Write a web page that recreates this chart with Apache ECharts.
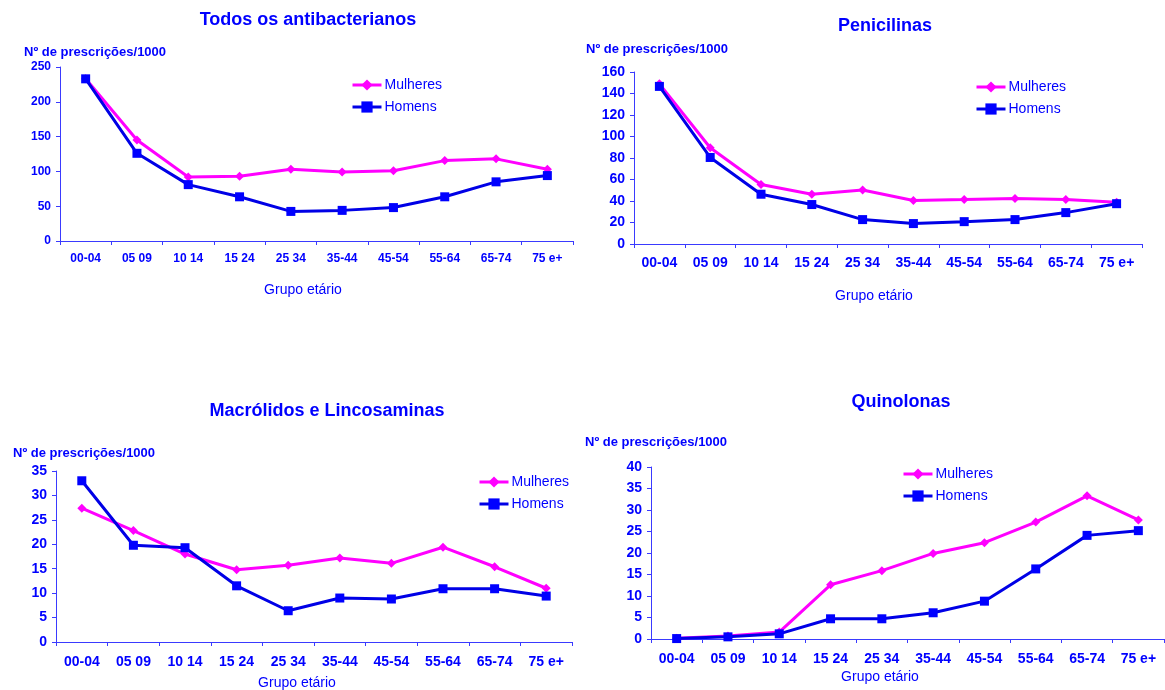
<!DOCTYPE html>
<html>
<head>
<meta charset="utf-8">
<title>Prescrições de antibacterianos por grupo etário</title>
<script src="https://cdn.jsdelivr.net/npm/echarts@6/dist/echarts.min.js"></script>
<style>
  html, body { margin: 0; padding: 0; background: #ffffff; }
  #chart { width: 1165px; height: 690px; }
</style>
</head>
<body>
<div id="chart"></div>
<script>
// Age groups shared by all four panels
const categories = ['00-04', '05 09', '10 14', '15 24', '25 34', '35-44', '45-54', '55-64', '65-74', '75 e+'];

// Prescriptions per 1000 inhabitants
const todosMulheres = [233, 145, 92, 93, 103, 99, 101, 115.5, 118, 103];
const todosHomens   = [233, 126, 81, 63.5, 42.5, 44, 48, 63.5, 85, 94];

const penMulheres = [149, 89.5, 55.3, 46.3, 50.3, 40.4, 41.3, 42.4, 41.3, 38.8];
const penHomens   = [146.6, 80.5, 46.3, 36.7, 22.7, 19, 20.8, 22.7, 29.2, 37.5];

const macMulheres = [27.4, 22.8, 18.0, 14.8, 15.7, 17.2, 16.1, 19.4, 15.4, 11.0];
const macHomens   = [33.0, 19.8, 19.3, 11.5, 6.4, 9.0, 8.8, 10.9, 10.9, 9.4];

const quiMulheres = [0.15, 0.7, 1.6, 12.6, 15.9, 19.9, 22.4, 27.2, 33.3, 27.7];
const quiHomens   = [0.1, 0.5, 1.2, 4.7, 4.7, 6.1, 8.8, 16.3, 24.1, 25.2];

// Panel titles and y-axis scales
const panelTitles = ['Todos os antibacterianos', 'Penicilinas', 'Macrólidos e Lincosaminas', 'Quinolonas'];
const yMax = [250, 160, 35, 40];
const yStep = [50, 20, 5, 5];

const seriesNames = ['Mulheres', 'Homens'];
const yName = 'Nº de prescrições/1000';
const xName = 'Grupo etário';

const FONT = '"Liberation Sans", Arial, Helvetica, sans-serif';
const BLUE = '#0000ff';
const PINK = '#ff00ff';
const AXIS = '#3a3aff';

// Layout of each panel
const panels = [
  { grid: { left: 60,  top: 67,  width: 513, height: 174 }, tick: 12, cat: 12,
    title: [308, 20], yname: [24, 52], xname: [303, 290], legend: [351, 78], catMargin: 12 },
  { grid: { left: 634, top: 72,  width: 508, height: 172 }, tick: 14, cat: 14,
    title: [885, 26], yname: [586, 49], xname: [874, 296], legend: [975, 80], catMargin: 12 },
  { grid: { left: 56,  top: 471, width: 516, height: 171 }, tick: 14, cat: 14,
    title: [327, 411], yname: [13, 453], xname: [297, 683], legend: [478, 475], catMargin: 13 },
  { grid: { left: 651, top: 467, width: 513, height: 172 }, tick: 14, cat: 14,
    title: [901, 402], yname: [585, 442], xname: [880, 677], legend: [902, 467], catMargin: 13 }
];

const dataPairs = [
  [todosMulheres, todosHomens],
  [penMulheres, penHomens],
  [macMulheres, macHomens],
  [quiMulheres, quiHomens]
];

const titles = [];
const grids = [];
const xAxes = [];
const yAxes = [];
const series = [];
const legends = [];

panels.forEach((p, i) => {
  grids.push(Object.assign({ containLabel: false }, p.grid));

  titles.push({
    text: panelTitles[i], left: p.title[0], top: p.title[1],
    textAlign: 'center', textVerticalAlign: 'middle', padding: 0,
    textStyle: { fontFamily: FONT, fontSize: 18, fontWeight: 'bold', color: BLUE }
  });
  titles.push({
    text: yName, left: p.yname[0], top: p.yname[1],
    textAlign: 'left', textVerticalAlign: 'middle', padding: 0,
    textStyle: { fontFamily: FONT, fontSize: 13, fontWeight: 'bold', color: BLUE }
  });
  titles.push({
    text: xName, left: p.xname[0], top: p.xname[1],
    textAlign: 'center', textVerticalAlign: 'middle', padding: 0,
    textStyle: { fontFamily: FONT, fontSize: 14, fontWeight: 'normal', color: BLUE }
  });

  xAxes.push({
    type: 'category', gridIndex: i, data: categories, boundaryGap: true,
    axisLine: { lineStyle: { color: AXIS, width: 1 } },
    axisTick: { show: true, inside: false, length: 4, interval: 0, lineStyle: { color: AXIS } },
    axisLabel: { interval: 0, margin: p.catMargin, fontFamily: FONT, fontSize: p.cat, fontWeight: 'bold', color: BLUE },
    splitLine: { show: false }
  });

  yAxes.push({
    type: 'value', gridIndex: i, min: 0, max: yMax[i], interval: yStep[i],
    axisLine: { show: true, lineStyle: { color: AXIS, width: 1 } },
    axisTick: { show: true, inside: false, length: 4, lineStyle: { color: AXIS } },
    axisLabel: { margin: 9, fontFamily: FONT, fontSize: p.tick, fontWeight: 'bold', color: BLUE },
    splitLine: { show: false }
  });

  const [fem, mal] = dataPairs[i];
  series.push({
    name: seriesNames[0], type: 'line', xAxisIndex: i, yAxisIndex: i, data: fem,
    symbol: 'diamond', symbolSize: 9, showAllSymbol: true,
    lineStyle: { color: PINK, width: 3 }, itemStyle: { color: PINK },
    z: 2, animation: false
  });
  series.push({
    name: seriesNames[1], type: 'line', xAxisIndex: i, yAxisIndex: i, data: mal,
    symbol: 'rect', symbolSize: 9, showAllSymbol: true,
    lineStyle: { color: '#0000e6', width: 3 }, itemStyle: { color: BLUE },
    z: 3, animation: false
  });

  legends.push({
    data: seriesNames, orient: 'vertical', left: p.legend[0], top: p.legend[1],
    padding: 0, itemGap: 8, itemWidth: 29, itemHeight: 14, selectedMode: false,
    lineStyle: { width: 3 },
    textStyle: { fontFamily: FONT, fontSize: 14, color: BLUE, padding: [0, 0, 0, -2] }
  });
});

const chart = echarts.init(document.getElementById('chart'), null, { renderer: 'canvas' });
chart.setOption({
  backgroundColor: '#ffffff',
  animation: false,
  title: titles,
  legend: legends,
  grid: grids,
  xAxis: xAxes,
  yAxis: yAxes,
  series: series
});
</script>
</body>
</html>
